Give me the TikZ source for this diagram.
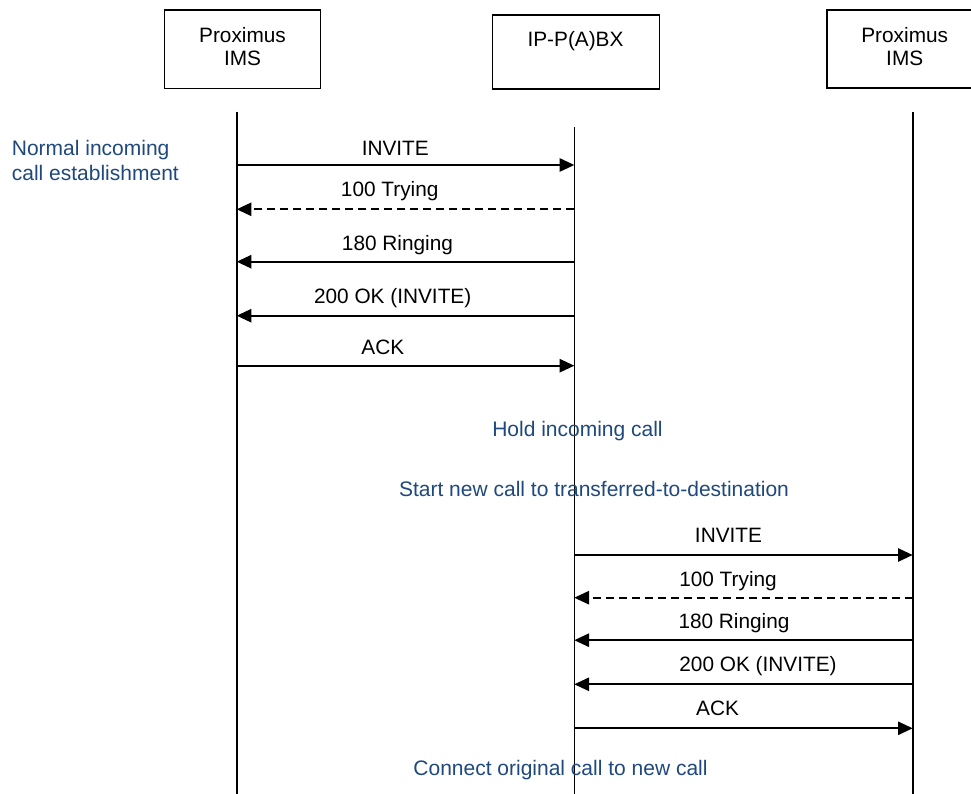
\documentclass[tikz,border=0pt]{standalone}
\usepackage{fontspec}
\setmainfont{Liberation Sans}
\usetikzlibrary{arrows.meta}
\definecolor{notecol}{HTML}{1F497D}
\tikzset{
  entity/.style={draw=black, line width=1.6pt, minimum width=156pt, minimum height=78.4pt, inner sep=0pt},
  lifeline/.style={draw=black, line width=1.6pt},
  msg/.style={line width=1.8pt, -{Triangle[length=14.7pt,width=13.3pt]}},
  reply/.style={msg, dash pattern=on 8pt off 5pt},
  lbl/.style={anchor=base, inner sep=0pt, font=\fontsize{20.8pt}{24pt}\selectfont},
  note/.style={anchor=base, inner sep=0pt, text=notecol, font=\fontsize{21pt}{25pt}\selectfont},
}
\begin{document}
\begin{tikzpicture}[x=1pt,y=-1pt]
\useasboundingbox (0,0) rectangle (971,794);
\clip (0,0) rectangle (971,794);
\fill[white] (0,0) rectangle (971,794);

% entity boxes
\node[entity, minimum width=156pt, minimum height=78.4pt] (boxL) at (242.3,49.5) {};
\node[entity, minimum width=167pt, minimum height=74.3pt] (boxM) at (575.8,52.15) {};
\node[entity, minimum width=156pt, minimum height=78pt] (boxR) at (904.7,49.3) {};
\node[lbl] (tL1) at (242.5,42.7) {Proximus};
\node[lbl] (tL2) at (242.5,66) {IMS};
\node[lbl] (tM1) at (575.5,46.5) {IP-P(A)BX};
\node[lbl] (tR1) at (904.7,42.2) {Proximus};
\node[lbl] (tR2) at (904.7,66) {IMS};

% lifelines
\coordinate (LTop) at (236.7,111.7);
\coordinate (LBot) at (236.7,796);
\coordinate (MTop) at (574.3,126.7);
\coordinate (MBot) at (574.3,796);
\coordinate (RTop) at (912.7,111.7);
\coordinate (RBot) at (912.7,796);
\draw[lifeline] (LTop) -- (LBot);
\draw[lifeline] (MTop) -- (MBot);
\draw[lifeline] (RTop) -- (RBot);

% message end points, first exchange
\coordinate (a1L) at (236.7,165);   \coordinate (a1M) at (574.3,165);
\coordinate (a2L) at (236.7,209.3); \coordinate (a2M) at (574.3,209.3);
\coordinate (a3L) at (236.7,261.7); \coordinate (a3M) at (574.3,261.7);
\coordinate (a4L) at (236.7,315.7); \coordinate (a4M) at (574.3,315.7);
\coordinate (a5L) at (236.7,365.7); \coordinate (a5M) at (574.3,365.7);
% second exchange
\coordinate (b1M) at (574.3,555);   \coordinate (b1R) at (912.7,555);
\coordinate (b2M) at (574.3,597.7); \coordinate (b2R) at (912.7,597.7);
\coordinate (b3M) at (574.3,640.2); \coordinate (b3R) at (912.7,640.2);
\coordinate (b4M) at (574.3,684.3); \coordinate (b4R) at (912.7,684.3);
\coordinate (b5M) at (574.3,728.3); \coordinate (b5R) at (912.7,728.3);

\draw[msg]   (a1L) -- (a1M);
\draw[reply] (a2M) -- (a2L);
\draw[msg]   (a3M) -- (a3L);
\draw[msg]   (a4M) -- (a4L);
\draw[msg]   (a5L) -- (a5M);

\draw[msg]   (b1M) -- (b1R);
\draw[reply] (b2R) -- (b2M);
\draw[msg]   (b3R) -- (b3M);
\draw[msg]   (b4R) -- (b4M);
\draw[msg]   (b5M) -- (b5R);

% message labels
\node[lbl] (la1) at (395.3,156) {INVITE};
\node[lbl] (la2) at (389.7,197) {100 Trying};
\node[lbl] (la3) at (397.5,251) {180 Ringing};
\node[lbl] (la4) at (392.7,303.3) {200 OK (INVITE)};
\node[lbl] (la5) at (382.8,354.3) {ACK};

\node[lbl] (lb1) at (728.5,542) {INVITE};
\node[lbl] (lb2) at (728,586.3) {100 Trying};
\node[lbl] (lb3) at (734,628.3) {180 Ringing};
\node[lbl] (lb4) at (758,671.7) {200 OK (INVITE)};
\node[lbl] (lb5) at (717.5,715.7) {ACK};

% notes
\node[note, anchor=base west] (n1) at (11.7,156) {Normal incoming};
\node[note, anchor=base west] (n2) at (11.7,181) {call establishment};
\node[note] (n3) at (577.5,436) {Hold incoming call};
\node[note] (n4) at (594,496) {Start new call to transferred-to-destination};
\node[note] (n5) at (560.5,775) {Connect original call to new call};
\end{tikzpicture}
\end{document}
